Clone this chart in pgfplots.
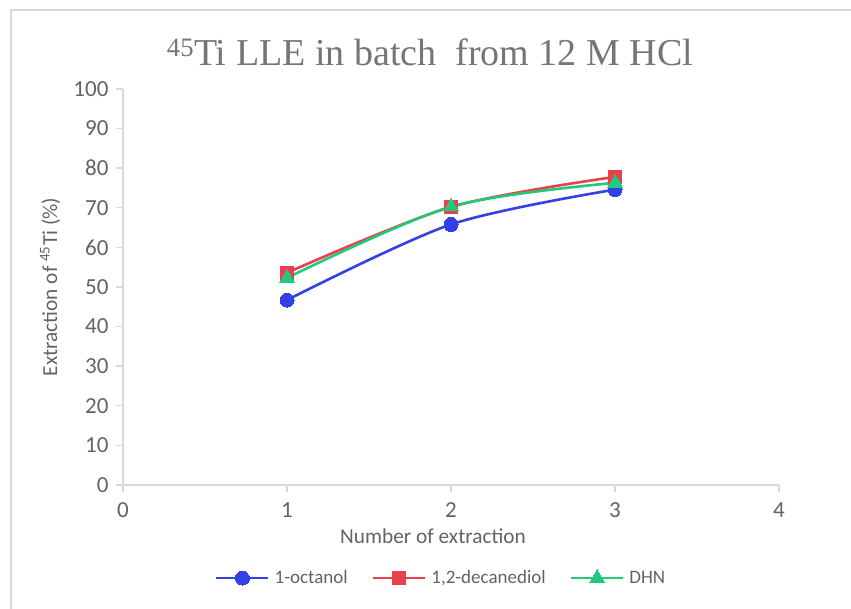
\documentclass[border=0pt]{standalone}
\usepackage{pgfplots}
\pgfplotsset{compat=1.18}
\usepackage{fontspec}
\setmainfont{Carlito}
\newfontfamily\titlefont{Liberation Serif}
\definecolor{axgray}{HTML}{D9D9D9}
\definecolor{txtgray}{HTML}{636363}
\definecolor{ttlgray}{HTML}{757575}
\definecolor{octblue}{HTML}{3340E6}
\definecolor{decred}{HTML}{E8414B}
\definecolor{dhngreen}{HTML}{22C97B}

\begin{document}
\begin{tikzpicture}
\useasboundingbox (-123pt,-124pt) rectangle (728pt,485pt);
% chart frame
\draw[axgray, line width=1.5pt] (-112pt,-130pt) -- (-112pt,475pt) -- (740pt,475pt);
\begin{axis}[
  at={(0pt,0pt)}, anchor=south west,
  scale only axis, width=656pt, height=396pt,
  xmin=0, xmax=4, ymin=0, ymax=100,
  axis x line*=bottom, axis y line*=left,
  xtick={0,1,2,3,4}, ytick={0,10,...,100},
  tick align=outside, major tick length=7pt,
  axis line style={axgray, line width=1.4pt},
  tick style={axgray, line width=1.4pt},
  /pgf/number format/assume math mode=true,
  tick label style={font=\fontsize{23}{27}\selectfont, text=txtgray},
  yticklabel style={xshift=-4pt},
  xticklabel style={yshift=-7pt},
  every axis x label/.style={at={(axis description cs:0.4726,0)}, yshift=-51pt, anchor=center},
  every axis y label/.style={at={(axis description cs:0,0.5)}, xshift=-73pt, rotate=90, anchor=center},
  label style={font=\fontsize{21.3}{25}\selectfont, text=txtgray},
  xlabel={Number of extraction},
  ylabel={Extraction of \textsuperscript{45}Ti (\%)},
  legend style={at={(0.485,-0.235)}, anchor=center, draw=none, fill=none,
    legend columns=3, font=\fontsize{19}{23}\selectfont, text=txtgray,
    /tikz/every odd column/.append style={column sep=3pt},
    /tikz/every even column/.append style={column sep=22pt}},
  legend image code/.code={%
    \draw[#1] (0pt,0pt) -- (52pt,0pt);
    \draw[#1, only marks] plot coordinates {(26pt,0pt)};},
  every axis plot/.append style={line width=2.6pt, smooth},
]
\addplot[octblue, mark=*, mark size=7pt, mark options={fill=octblue, draw=octblue, line width=0pt}]
  coordinates {(1,46.7) (2,65.8) (3,74.6)};
\addlegendentry{1-octanol}
\addplot[decred, mark=square*, mark size=6.5pt, mark options={fill=decred, draw=decred, line width=0pt}]
  coordinates {(1,53.6) (2,70.2) (3,77.8)};
\addlegendentry{1,2-decanediol}
\addplot[dhngreen, mark=triangle*, mark size=8.5pt, mark options={fill=dhngreen, draw=dhngreen, line width=0pt}]
  coordinates {(1,52.3) (2,70.3) (3,76.3)};
\addlegendentry{DHN}
\end{axis}
\node[font=\titlefont\fontsize{38}{44}\selectfont, text=ttlgray] at (307pt,433pt) {\textsuperscript{45}Ti LLE in batch\ \ from 12 M HCl};
\end{tikzpicture}
\end{document}
